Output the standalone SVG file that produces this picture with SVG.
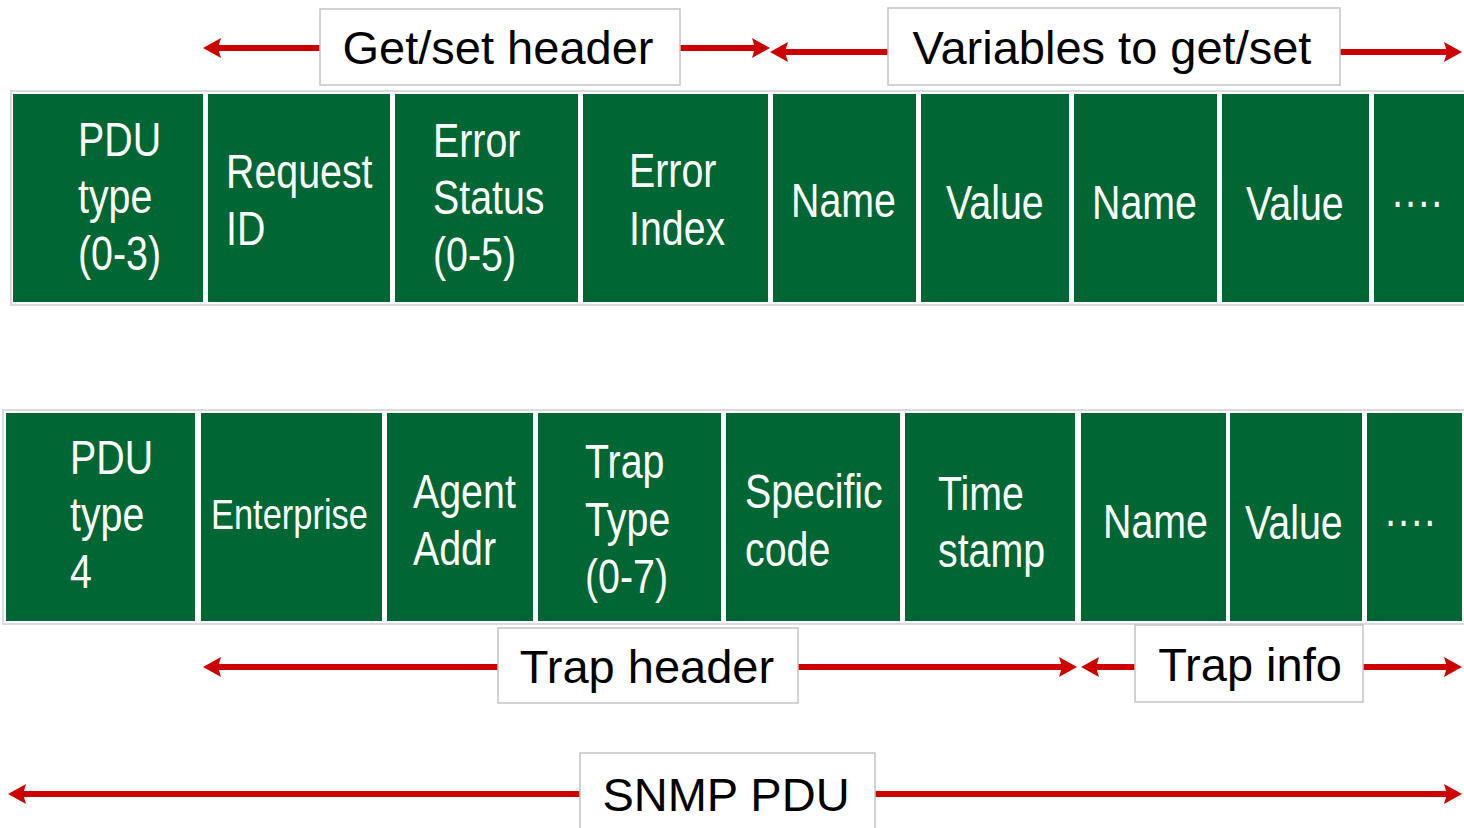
<svg xmlns="http://www.w3.org/2000/svg" width="1464" height="828" viewBox="0 0 1464 828">
<style>
.bg{fill:#ffffff;stroke:#cfcfcf;stroke-width:1.5}
.cell{fill:#006633}
.ct{fill:#ffffff;font-family:"Liberation Sans",Arial,sans-serif;font-size:48px}
.lb{fill:#ffffff;stroke:#c4c4c4;stroke-width:1.5}
.lt{fill:#000000;font-family:"Liberation Sans",Arial,sans-serif;font-size:47px;text-anchor:middle}
.arr{stroke:#cc0000;stroke-width:6;fill:none;marker-end:url(#ah)}
</style>
<defs>
<marker id="ah" markerUnits="userSpaceOnUse" markerWidth="22" markerHeight="22" refX="10" refY="10" orient="auto">
<path d="M0,0 L18,10 L0,20 L3,10 z" fill="#cc0000"/>
</marker>
</defs>
<rect width="1464" height="828" fill="#ffffff"/>

<g id="row1">
<rect class="bg" x="11" y="91" width="1460" height="214"/>
<g id="r1c1"><rect class="cell" x="13" y="94" width="190" height="208"/><text class="ct" transform="matrix(0.82,0,0,1,78,0)"><tspan x="0" y="156">PDU</tspan><tspan x="0" y="213">type</tspan><tspan x="0" y="270">(0-3)</tspan></text></g>
<g id="r1c2"><rect class="cell" x="208" y="94" width="182" height="208"/><text class="ct" transform="matrix(0.82,0,0,1,226,0)"><tspan x="0" y="188">Request</tspan><tspan x="0" y="245">ID</tspan></text></g>
<g id="r1c3"><rect class="cell" x="395" y="94" width="183" height="208"/><text class="ct" transform="matrix(0.82,0,0,1,433,0)"><tspan x="0" y="157">Error</tspan><tspan x="0" y="214">Status</tspan><tspan x="0" y="271">(0-5)</tspan></text></g>
<g id="r1c4"><rect class="cell" x="583" y="94" width="185" height="208"/><text class="ct" transform="matrix(0.82,0,0,1,629,0)"><tspan x="0" y="187">Error</tspan><tspan x="0" y="245">Index</tspan></text></g>
<g id="r1c5"><rect class="cell" x="773" y="94" width="143" height="208"/><text class="ct" transform="matrix(0.82,0,0,1,791,0)" x="0" y="217">Name</text></g>
<g id="r1c6"><rect class="cell" x="921" y="94" width="148" height="208"/><text class="ct" transform="matrix(0.82,0,0,1,946,0)" x="0" y="219">Value</text></g>
<g id="r1c7"><rect class="cell" x="1074" y="94" width="143" height="208"/><text class="ct" transform="matrix(0.82,0,0,1,1092,0)" x="0" y="219">Name</text></g>
<g id="r1c8"><rect class="cell" x="1222" y="94" width="147" height="208"/><text class="ct" transform="matrix(0.82,0,0,1,1246,0)" x="0" y="220">Value</text></g>
<g id="r1c9"><rect class="cell" x="1374" y="94" width="95" height="208"/><text class="ct" transform="matrix(0.82,0,0,1,1391,0)" x="0" y="218">····</text></g>
</g>

<g id="row2">
<rect class="bg" x="3" y="410" width="1468" height="214"/>
<g id="r2c1"><rect class="cell" x="6" y="413" width="189" height="208"/><text class="ct" transform="matrix(0.82,0,0,1,70,0)"><tspan x="0" y="474">PDU</tspan><tspan x="0" y="531">type</tspan><tspan x="0" y="588">4</tspan></text></g>
<g id="r2c2"><rect class="cell" x="201" y="413" width="181" height="208"/><text class="ct" transform="matrix(0.82,0,0,1,211,0)" x="0" y="529" style="font-size:42px">Enterprise</text></g>
<g id="r2c3"><rect class="cell" x="387" y="413" width="146" height="208"/><text class="ct" transform="matrix(0.82,0,0,1,413,0)"><tspan x="0" y="508">Agent</tspan><tspan x="0" y="565">Addr</tspan></text></g>
<g id="r2c4"><rect class="cell" x="538" y="413" width="183" height="208"/><text class="ct" transform="matrix(0.82,0,0,1,585,0)"><tspan x="0" y="478">Trap</tspan><tspan x="0" y="536">Type</tspan><tspan x="0" y="593">(0-7)</tspan></text></g>
<g id="r2c5"><rect class="cell" x="726" y="413" width="174" height="208"/><text class="ct" transform="matrix(0.82,0,0,1,745,0)"><tspan x="0" y="508">Specific</tspan><tspan x="0" y="566">code</tspan></text></g>
<g id="r2c6"><rect class="cell" x="905" y="413" width="170" height="208"/><text class="ct" transform="matrix(0.82,0,0,1,938,0)"><tspan x="0" y="510">Time</tspan><tspan x="0" y="567">stamp</tspan></text></g>
<g id="r2c7"><rect class="cell" x="1081" y="413" width="145" height="208"/><text class="ct" transform="matrix(0.82,0,0,1,1103,0)" x="0" y="538">Name</text></g>
<g id="r2c8"><rect class="cell" x="1230" y="413" width="132" height="208"/><text class="ct" transform="matrix(0.82,0,0,1,1245,0)" x="0" y="539">Value</text></g>
<g id="r2c9"><rect class="cell" x="1367" y="413" width="95" height="208"/><text class="ct" transform="matrix(0.82,0,0,1,1384,0)" x="0" y="537">····</text></g>
</g>

<g id="connectors">
<line class="arr" x1="320" y1="48" x2="211" y2="48"/>
<line class="arr" x1="680" y1="48" x2="762" y2="48"/>
<line class="arr" x1="888" y1="52" x2="778" y2="52"/>
<line class="arr" x1="1340" y1="52" x2="1454" y2="52"/>
<line class="arr" x1="498" y1="667" x2="211" y2="667"/>
<line class="arr" x1="798" y1="667" x2="1069" y2="667"/>
<line class="arr" x1="1135" y1="667" x2="1089" y2="667"/>
<line class="arr" x1="1363" y1="667" x2="1454" y2="667"/>
<line class="arr" x1="580" y1="794" x2="16" y2="794"/>
<line class="arr" x1="875" y1="794" x2="1454" y2="794"/>
</g>

<g id="label-getset"><rect class="lb" x="320" y="9" width="360" height="76"/><text class="lt" x="498" y="64">Get/set header</text></g>
<g id="label-vars"><rect class="lb" x="888" y="8" width="452" height="77"/><text class="lt" x="1112" y="64">Variables to get/set</text></g>
<g id="label-traphdr"><rect class="lb" x="498" y="628" width="300" height="75"/><text class="lt" x="647" y="683">Trap header</text></g>
<g id="label-trapinfo"><rect class="lb" x="1135" y="625" width="228" height="77"/><text class="lt" x="1250" y="681">Trap info</text></g>
<g id="label-snmp"><rect class="lb" x="580" y="753" width="295" height="80"/><text class="lt" x="726" y="811">SNMP PDU</text></g>
</svg>
